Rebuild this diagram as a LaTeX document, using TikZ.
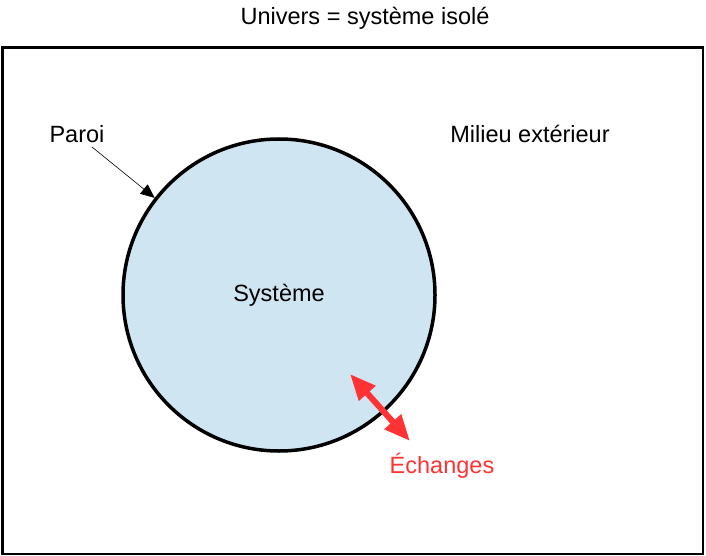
\documentclass[tikz,border=0pt]{standalone}
\usepackage{xcolor}
\usepackage{fontspec}
\setmainfont{Liberation Sans}
\usepackage{tikz}
\usetikzlibrary{positioning, arrows.meta, calc}
\definecolor{sysblue}{RGB}{207,229,242}
\definecolor{xred}{RGB}{255,51,51}

\begin{document}
\begin{tikzpicture}[x=1pt, y=-1pt, font=\fontsize{23.5}{27}\selectfont,
  sys/.style={circle, draw, line width=3.5pt, fill=sysblue, minimum size=312pt,
              inner sep=0pt},
  lab/.style={inner sep=0pt, anchor=center},
  ar/.style={-{Triangle[length=14pt,width=12pt]}, line width=0.6pt},
  ex/.style={{Triangle[length=26pt,width=21pt]}-{Triangle[length=26pt,width=21pt]},
             line width=6pt, draw=xred}]
\useasboundingbox (0,0) rectangle (706,556);
\draw[line width=2.5pt] (2.5,47.5) rectangle (703,554);
\node[lab] (univ) at (365,18) {Univers = système isolé};
\node[sys] (sys) at (279,295) {Système};
\node[lab] (mil) at (530,134) {Milieu extérieur};
\node[lab] (paroi) at (77,134) {Paroi};
\node[lab, text=xred] (ech) at (442,466) {Échanges};
% fleches
\coordinate (pa) at (92,147);
\draw[ar] (pa) -- (sys.142);
\coordinate (ea) at (350,374);
\coordinate (eb) at (410,441);
\draw[ex] (ea) -- (eb);
\end{tikzpicture}
\end{document}
